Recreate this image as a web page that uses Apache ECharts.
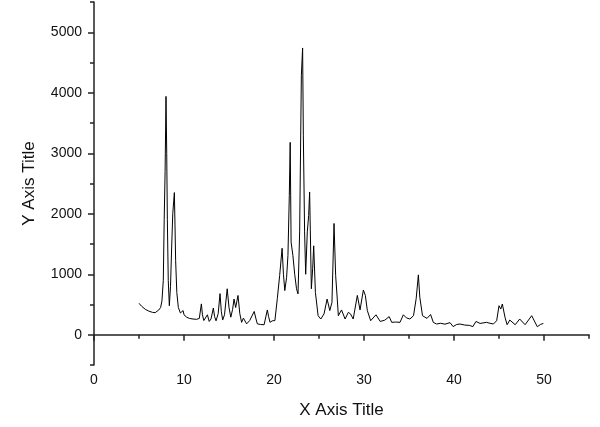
<!DOCTYPE html>
<html>
<head>
<meta charset="utf-8">
<script src="https://cdn.jsdelivr.net/npm/echarts@6/dist/echarts.min.js"></script>
<style>
html, body { margin: 0; padding: 0; background: #fff; }
#xrdChart { width: 600px; height: 427px; }
</style>
</head>
<body>
<div id="xrdChart"></div>
<script>
// 2θ positions (deg) and intensities
const twoTheta = [
  5.0, 5.1, 5.2, 5.3, 5.5, 5.7, 5.9, 6.1, 6.3, 6.5, 6.8, 7.0, 7.2, 7.4, 7.55, 7.7, 7.8, 7.9, 8.0, 8.08,
  8.15, 8.25, 8.37, 8.5, 8.63, 8.75, 8.93, 9.0, 9.07, 9.2, 9.37, 9.6, 9.9, 10.0, 10.3, 10.6, 11.0, 11.4, 11.7, 11.93,
  12.05, 12.2, 12.4, 12.6, 12.8, 13.0, 13.26, 13.4, 13.56, 13.8, 14.0, 14.15, 14.3, 14.5, 14.8, 15.0, 15.2, 15.4, 15.56, 15.74,
  16.0, 16.2, 16.4, 16.6, 16.96, 17.3, 17.8, 18.0, 18.15, 18.5, 18.9, 19.26, 19.4, 19.56, 19.8, 20.1, 20.37, 20.63, 20.9, 21.05,
  21.2, 21.4, 21.55, 21.7, 21.8, 21.9, 22.1, 22.3, 22.5, 22.67, 22.85, 23.04, 23.18, 23.26, 23.4, 23.52, 23.7, 23.85, 23.96, 24.15,
  24.3, 24.41, 24.6, 24.9, 25.2, 25.56, 25.9, 26.2, 26.44, 26.67, 26.85, 27.03, 27.15, 27.5, 27.9, 28.26, 28.5, 28.8, 29.26, 29.56,
  29.93, 30.15, 30.37, 30.74, 31.33, 31.8, 32.3, 32.8, 33.08, 33.5, 34.0, 34.37, 34.7, 35.1, 35.5, 35.8, 36.04, 36.2, 36.5, 37.0,
  37.4, 37.7, 38.07, 38.5, 39.0, 39.56, 39.9, 40.3, 40.67, 41.2, 41.7, 42.1, 42.44, 42.9, 43.6, 44.0, 44.37, 44.74, 45.0, 45.2,
  45.37, 45.67, 45.9, 46.2, 46.8, 47.3, 47.9, 48.63, 49.26, 49.6, 49.93
];
const intensity = [
  520, 500, 490, 470, 440, 420, 400, 390, 380, 370, 365, 380, 410, 450, 560, 900, 1900, 2700, 3940, 3000,
  1900, 900, 480, 800, 1450, 2000, 2350, 1800, 1230, 700, 450, 360, 400, 330, 290, 270, 260, 255, 270, 510,
  330, 235, 260, 330, 220, 260, 440, 300, 230, 350, 680, 380, 245, 330, 760, 450, 290, 420, 590, 450,
  650, 350, 205, 275, 180, 235, 385, 260, 180, 170, 165, 410, 300, 205, 230, 235, 600, 980, 1430, 1000,
  730, 950, 1310, 2300, 3180, 1530, 1310, 1000, 760, 675, 1700, 4290, 4740, 3300, 1700, 1000, 1700, 1970, 2360, 760,
  1100, 1470, 700, 315, 260, 345, 590, 400, 535, 1840, 980, 590, 315, 410, 260, 370, 345, 260, 650, 410,
  740, 650, 400, 232, 330, 220, 240, 300, 205, 210, 205, 330, 280, 260, 315, 600, 990, 620, 315, 270,
  335, 205, 177, 190, 175, 200, 135, 170, 177, 160, 155, 135, 220, 187, 205, 190, 177, 232, 480, 425,
  508, 287, 166, 243, 166, 260, 166, 315, 132, 170, 187
];

// tick marks
const xMajorTicks = [0, 10, 20, 30, 40, 50];
const xMinorTicks = [5, 15, 25, 35, 45, 55];
const yMajorTicks = [0, 1000, 2000, 3000, 4000, 5000];
const yMinorTicks = [-500, 500, 1500, 2500, 3500, 4500, 5500];

const chartDom = document.getElementById('xrdChart');
const myChart = echarts.init(chartDom);

const axisColor = '#222';
const font = '"Liberation Sans", Arial, sans-serif';

const option = {
  animation: false,
  backgroundColor: '#fff',
  grid: { left: 94, right: 11, top: 2, bottom: 62, containLabel: false },
  xAxis: [
    {
      type: 'value',
      min: 0,
      max: 55,
      name: 'X Axis Title',
      nameLocation: 'middle',
      nameGap: 37,
      nameTextStyle: { fontFamily: font, fontSize: 17, color: '#111' },
      axisLine: { show: true, lineStyle: { color: axisColor, width: 1.5 } },
      axisTick: { show: true, length: 6, lineStyle: { color: axisColor, width: 1.5 }, customValues: xMajorTicks },
      axisLabel: {
        fontFamily: font, fontSize: 14, color: '#111', margin: 8, customValues: xMajorTicks,
        formatter: (v) => String(v)
      },
      splitLine: { show: false }
    },
    {
      type: 'value',
      min: 0,
      max: 55,
      position: 'bottom',
      axisLine: { show: false },
      axisTick: { show: true, length: 4, lineStyle: { color: axisColor, width: 1.5 }, customValues: xMinorTicks },
      axisLabel: { show: false },
      splitLine: { show: false }
    }
  ],
  yAxis: [
    {
      type: 'value',
      min: -500,
      max: 5500,
      name: 'Y Axis Title',
      nameLocation: 'middle',
      nameGap: 56,
      nameTextStyle: { fontFamily: font, fontSize: 17, color: '#111' },
      axisLine: { show: true, lineStyle: { color: axisColor, width: 1.5 } },
      axisTick: { show: true, length: 6, lineStyle: { color: axisColor, width: 1.5 }, customValues: yMajorTicks },
      axisLabel: {
        fontFamily: font, fontSize: 14, color: '#111', margin: 12, customValues: yMajorTicks,
        formatter: (v) => String(v)
      },
      splitLine: { show: false }
    },
    {
      type: 'value',
      min: -500,
      max: 5500,
      position: 'left',
      axisLine: { show: false },
      axisTick: { show: true, length: 4, lineStyle: { color: axisColor, width: 1.5 }, customValues: yMinorTicks },
      axisLabel: { show: false },
      splitLine: { show: false }
    }
  ],
  series: [
    {
      type: 'line',
      xAxisIndex: 0,
      yAxisIndex: 0,
      showSymbol: false,
      symbol: 'none',
      lineStyle: { color: '#000', width: 1 },
      data: twoTheta.map((t, i) => [t, intensity[i]])
    }
  ]
};

myChart.setOption(option);
window.addEventListener('resize', () => {
  myChart.resize();
});
</script>
</body>
</html>
